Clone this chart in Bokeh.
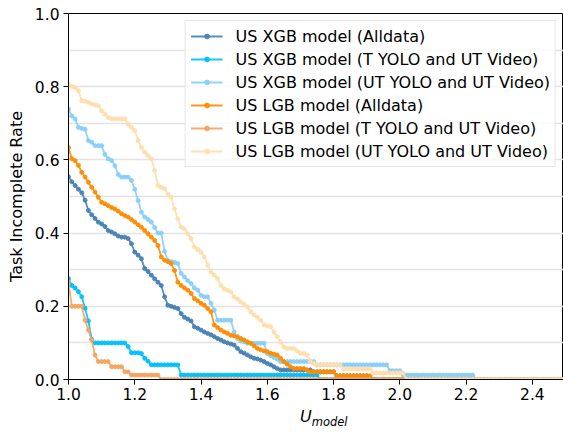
import numpy as np
from bokeh.plotting import figure
from bokeh.layouts import column
from bokeh.models import (FixedTicker, Legend, LegendItem, Div,
                          NumeralTickFormatter, Range1d, ColumnDataSource)
from bokeh.embed import file_html
from bokeh.resources import INLINE

# U_model grid (1.00 .. 2.50 step 0.01)
U = np.round(np.arange(1.00, 2.505, 0.01), 2)

xgb_all = [
    0.554, 0.54, 0.53, 0.52, 0.51, 0.49, 0.462, 0.45, 0.44, 0.43,
    0.425, 0.418, 0.407, 0.403, 0.398, 0.392, 0.389, 0.389, 0.385, 0.371,
    0.348, 0.34, 0.33, 0.303, 0.295, 0.285, 0.275, 0.266, 0.257, 0.226,
    0.203, 0.2, 0.197, 0.194, 0.18, 0.17, 0.165, 0.16, 0.144, 0.14,
    0.135, 0.13, 0.126, 0.122, 0.117, 0.112, 0.108, 0.103, 0.1, 0.097,
    0.094, 0.085, 0.076, 0.072, 0.067, 0.062, 0.058, 0.056, 0.053, 0.049,
    0.044, 0.04, 0.035, 0.03, 0.026, 0.026, 0.026, 0.026, 0.026, 0.026,
    0.026, 0.026, 0.026, 0.026, 0.021, 0.021, 0.021, 0.021, 0.021, 0.021,
    0.021, 0.01, 0.01, 0.01, 0.01, 0.01, 0.01, 0.01, 0.01, 0.01,
    0.01, 0, 0, 0, 0, 0, 0, 0, 0, 0,
    0, 0, 0, 0, 0, 0, 0, 0, 0, 0,
    0, 0, 0, 0, 0, 0, 0, 0, 0, 0,
    0, 0, 0, 0, 0, 0, 0, 0, 0, 0,
    0, 0, 0, 0, 0, 0, 0, 0, 0, 0,
    0, 0, 0, 0, 0, 0, 0, 0, 0, 0, 0,
]

xgb_tyolo = [
    0.276, 0.257, 0.25, 0.24, 0.226, 0.195, 0.16, 0.11, 0.1, 0.1,
    0.1, 0.1, 0.1, 0.1, 0.1, 0.1, 0.1, 0.1, 0.09, 0.073,
    0.073, 0.073, 0.071, 0.058, 0.05, 0.04, 0.04, 0.04, 0.04, 0.04,
    0.04, 0.04, 0.04, 0.04, 0.012, 0.012, 0.012, 0.012, 0.012, 0.012,
    0.012, 0.012, 0.012, 0.012, 0.012, 0.012, 0.012, 0.012, 0.012, 0.012,
    0.012, 0.012, 0.012, 0.012, 0.012, 0.012, 0.012, 0.012, 0.012, 0.012,
    0.012, 0.012, 0.012, 0.012, 0.012, 0.012, 0.012, 0.012, 0.012, 0.012,
    0.012, 0.012, 0.012, 0.012, 0.012, 0.012, 0, 0, 0, 0,
    0, 0, 0, 0, 0, 0, 0, 0, 0, 0,
    0, 0, 0, 0, 0, 0, 0, 0, 0, 0,
    0, 0, 0, 0, 0, 0, 0, 0, 0, 0,
    0, 0, 0, 0, 0, 0, 0, 0, 0, 0,
    0, 0, 0, 0, 0, 0, 0, 0, 0, 0,
    0, 0, 0, 0, 0, 0, 0, 0, 0, 0,
    0, 0, 0, 0, 0, 0, 0, 0, 0, 0, 0,
]

xgb_utyolo = [
    0.739, 0.72, 0.712, 0.689, 0.686, 0.684, 0.653, 0.648, 0.639, 0.639,
    0.639, 0.615, 0.603, 0.598, 0.584, 0.56, 0.553, 0.553, 0.553, 0.544,
    0.52, 0.489, 0.457, 0.444, 0.437, 0.43, 0.415, 0.4, 0.4, 0.35,
    0.325, 0.322, 0.32, 0.317, 0.29, 0.28, 0.27, 0.262, 0.25, 0.244,
    0.23, 0.226, 0.226, 0.208, 0.19, 0.162, 0.162, 0.162, 0.162, 0.162,
    0.13, 0.112, 0.105, 0.103, 0.099, 0.099, 0.099, 0.099, 0.099, 0.099,
    0.071, 0.065, 0.06, 0.055, 0.049, 0.049, 0.049, 0.049, 0.049, 0.049,
    0.049, 0.049, 0.049, 0.049, 0.049, 0.04, 0.04, 0.04, 0.04, 0.04,
    0.04, 0.04, 0.04, 0.04, 0.04, 0.04, 0.04, 0.04, 0.04, 0.04,
    0.04, 0.04, 0.04, 0.04, 0.04, 0.04, 0.04, 0.024, 0.024, 0.024,
    0.024, 0.012, 0.012, 0.012, 0.012, 0.012, 0.012, 0.012, 0.012, 0.012,
    0.012, 0.012, 0.012, 0.012, 0.012, 0.012, 0.012, 0.012, 0.012, 0.012,
    0.012, 0.012, 0.012, 0, 0, 0, 0, 0, 0, 0,
    0, 0, 0, 0, 0, 0, 0, 0, 0, 0,
    0, 0, 0, 0, 0, 0, 0, 0, 0, 0, 0,
]

lgb_all = [
    0.634, 0.603, 0.598, 0.585, 0.566, 0.553, 0.539, 0.525, 0.512, 0.498,
    0.484, 0.48, 0.475, 0.47, 0.466, 0.46, 0.453, 0.448, 0.444, 0.437,
    0.43, 0.423, 0.416, 0.407, 0.398, 0.389, 0.38, 0.366, 0.335, 0.326,
    0.322, 0.317, 0.298, 0.266, 0.257, 0.25, 0.244, 0.235, 0.221, 0.215,
    0.208, 0.203, 0.194, 0.185, 0.149, 0.142, 0.135, 0.13, 0.126, 0.121,
    0.119, 0.117, 0.112, 0.108, 0.103, 0.099, 0.092, 0.085, 0.081, 0.078,
    0.076, 0.072, 0.069, 0.067, 0.058, 0.049, 0.042, 0.035, 0.03, 0.03,
    0.03, 0.03, 0.026, 0.021, 0.021, 0.021, 0.021, 0.021, 0.021, 0.021,
    0.021, 0.01, 0.01, 0.01, 0.01, 0.01, 0.01, 0.01, 0.01, 0.01,
    0.01, 0.01, 0, 0, 0, 0, 0, 0, 0, 0,
    0, 0, 0, 0, 0, 0, 0, 0, 0, 0,
    0, 0, 0, 0, 0, 0, 0, 0, 0, 0,
    0, 0, 0, 0, 0, 0, 0, 0, 0, 0,
    0, 0, 0, 0, 0, 0, 0, 0, 0, 0,
    0, 0, 0, 0, 0, 0, 0, 0, 0, 0, 0,
]

lgb_tyolo = [
    0.266, 0.2, 0.2, 0.2, 0.2, 0.162, 0.135, 0.108, 0.067, 0.049,
    0.049, 0.049, 0.049, 0.035, 0.035, 0.035, 0.035, 0.021, 0.021, 0.012,
    0.012, 0.012, 0.012, 0.012, 0.012, 0.012, 0.012, 0.012, 0, 0,
    0, 0, 0, 0, 0, 0, 0, 0, 0, 0,
    0, 0, 0, 0, 0, 0, 0, 0, 0, 0,
    0, 0, 0, 0, 0, 0, 0, 0, 0, 0,
    0, 0, 0, 0, 0, 0, 0, 0, 0, 0,
    0, 0, 0, 0, 0, 0, 0, 0, 0, 0,
    0, 0, 0, 0, 0, 0, 0, 0, 0, 0,
    0, 0, 0, 0, 0, 0, 0, 0, 0, 0,
    0, 0, 0, 0, 0, 0, 0, 0, 0, 0,
    0, 0, 0, 0, 0, 0, 0, 0, 0, 0,
    0, 0, 0, 0, 0, 0, 0, 0, 0, 0,
    0, 0, 0, 0, 0, 0, 0, 0, 0, 0,
    0, 0, 0, 0, 0, 0, 0, 0, 0, 0, 0,
]

lgb_utyolo = [
    0.807, 0.8, 0.798, 0.789, 0.762, 0.76, 0.757, 0.753, 0.75, 0.748,
    0.734, 0.725, 0.716, 0.712, 0.712, 0.712, 0.712, 0.712, 0.698, 0.689,
    0.68, 0.653, 0.634, 0.621, 0.612, 0.603, 0.571, 0.53, 0.525, 0.521,
    0.507, 0.498, 0.466, 0.439, 0.416, 0.412, 0.398, 0.385, 0.362, 0.355,
    0.348, 0.335, 0.312, 0.294, 0.285, 0.276, 0.257, 0.248, 0.244, 0.239,
    0.226, 0.22, 0.212, 0.205, 0.198, 0.185, 0.176, 0.17, 0.162, 0.149,
    0.146, 0.144, 0.13, 0.117, 0.103, 0.089, 0.085, 0.085, 0.085, 0.078,
    0.071, 0.071, 0.067, 0.049, 0.044, 0.04, 0.04, 0.04, 0.04, 0.04,
    0.04, 0.04, 0.04, 0.029, 0.029, 0.029, 0.029, 0.029, 0.029, 0.029,
    0.029, 0.029, 0.018, 0.018, 0.018, 0.018, 0.018, 0.018, 0.018, 0.018,
    0.018, 0.018, 0, 0, 0, 0, 0, 0, 0, 0,
    0, 0, 0, 0, 0, 0, 0, 0, 0, 0,
    0, 0, 0, 0, 0, 0, 0, 0, 0, 0,
    0, 0, 0, 0, 0, 0, 0, 0, 0, 0,
    0, 0, 0, 0, 0, 0, 0, 0, 0, 0, 0,
]

names = [
    "US XGB model (Alldata)",
    "US XGB model (T YOLO and UT Video)",
    "US XGB model (UT YOLO and UT Video)",
    "US LGB model (Alldata)",
    "US LGB model (T YOLO and UT Video)",
    "US LGB model (UT YOLO and UT Video)",
]
series = [xgb_all, xgb_tyolo, xgb_utyolo, lgb_all, lgb_tyolo, lgb_utyolo]
colors = ["#4682B4", "#00BFFF", "#87CEFA", "#FF8C00", "#F4A460", "#FFDEAD"]

x_ticks = [1.0, 1.2, 1.4, 1.6, 1.8, 2.0, 2.2, 2.4]
y_ticks = [0.0, 0.2, 0.4, 0.6, 0.8, 1.0]
grid_ticks = [0.1, 0.2, 0.3, 0.4, 0.5, 0.6, 0.7, 0.8, 0.9]

FONT = "DejaVu Sans"

p = figure(width=563, height=406, x_range=Range1d(1.0, 2.494), y_range=Range1d(0.0, 1.0),
           output_backend="svg", toolbar_location=None,
           min_border_left=68, min_border_right=0, min_border_top=13, min_border_bottom=27)

p.background_fill_color = "white"
p.border_fill_color = "white"
p.outline_line_color = "black"
p.outline_line_width = 1

p.xgrid.visible = False
p.ygrid.ticker = FixedTicker(ticks=grid_ticks)
p.ygrid.grid_line_color = "#e3e3e3"
p.ygrid.grid_line_width = 1.5

for ax in (p.xaxis[0], p.yaxis[0]):
    ax.axis_line_color = "black"
    ax.axis_line_width = 1
    ax.major_tick_line_color = "black"
    ax.major_tick_out = 5
    ax.major_tick_in = 0
    ax.minor_tick_line_color = None
    ax.major_label_text_font = FONT
    ax.major_label_text_font_size = "15.5px"
    ax.major_label_text_color = "black"
    ax.formatter = NumeralTickFormatter(format="0.0")

p.xaxis.ticker = FixedTicker(ticks=x_ticks)
p.yaxis.ticker = FixedTicker(ticks=y_ticks)
p.xaxis.major_label_standoff = 3
p.yaxis.major_label_standoff = 4
p.yaxis.axis_label = "Task Incomplete Rate"
p.yaxis.axis_label_text_font = FONT
p.yaxis.axis_label_text_font_size = "16px"
p.yaxis.axis_label_text_font_style = "normal"
p.yaxis.axis_label_text_color = "black"
p.yaxis.axis_label_standoff = 6

items = []
for name, vals, col in zip(names, series, colors):
    src = ColumnDataSource(data=dict(x=U, y=vals))
    lr = p.line("x", "y", source=src, line_color=col, line_width=1.8, line_alpha=0.9)
    sr = p.scatter("x", "y", source=src, size=4, fill_color=col, line_color=col,
                   fill_alpha=0.9, line_alpha=0.9)
    items.append(LegendItem(label=name, renderers=[lr, sr]))

legend = Legend(items=items, location="top_right")
legend.margin = 7
legend.padding = 5
legend.spacing = 3
legend.label_height = 20
legend.glyph_height = 12
legend.glyph_width = 32
legend.label_standoff = 13
legend.label_text_font = FONT
legend.label_text_font_size = "16px"
legend.label_text_color = "black"
legend.border_line_color = "#cccccc"
legend.border_line_width = 1
legend.background_fill_color = "white"
legend.background_fill_alpha = 0.8
p.add_layout(legend)

xlabel = Div(
    text='<span style="font-family: \'DejaVu Sans\'; font-style: italic; font-size: 16px; color: black;">'
         'U<sub style="font-size: 11.5px; vertical-align: -4px;">model</sub></span>',
    width=563, height=29, margin=(0, 0, 0, 0),
    styles={"padding-left": "300px", "padding-top": "2px", "line-height": "18px"},
)

layout = column(p, xlabel, spacing=0)
open("out.html", "w").write(file_html(layout, INLINE))
